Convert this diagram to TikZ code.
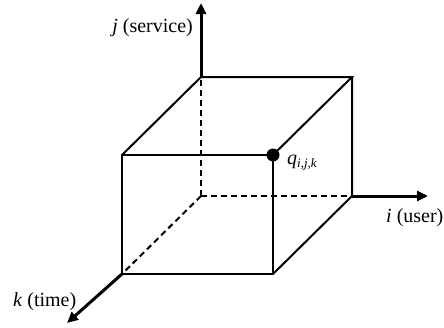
\documentclass[tikz,border=0pt]{standalone}
\usepackage{fontspec}
\setmainfont{Liberation Serif}
\usetikzlibrary{arrows.meta}
\begin{document}
\begin{tikzpicture}[x=1pt,y=-1pt,
  edge/.style={line width=2pt, line join=miter},
  hidden/.style={line width=2pt, dash pattern=on 6pt off 4pt},
  axis/.style={line width=3pt, -{Triangle[length=11pt,width=10pt]}},
  lbl/.style={inner sep=0pt, font=\fontsize{20}{24}\selectfont}]
\useasboundingbox (0,0) rectangle (444,327);
\coordinate (O) at (201,196);
\coordinate (BTL) at (201,77);
\coordinate (BTR) at (352,77);
\coordinate (BBR) at (352,196);
\coordinate (FTL) at (122,155);
\coordinate (FTR) at (273,155);
\coordinate (FBL) at (122,274);
\coordinate (FBR) at (273,274);
\coordinate (jtip) at (201,3);
\coordinate (itip) at (428,196);
\coordinate (ktip) at (67,323);
% hidden edges
\draw[hidden] (O) -- (BTL);
\draw[hidden] (O) -- (BBR);
\draw[hidden] (O) -- (FBL);
% visible edges
\draw[edge] (FTL) -- (FTR) -- (FBR) -- (FBL) -- cycle;
\draw[edge] (FTL) -- (BTL) -- (BTR) -- (FTR);
\draw[edge] (BTR) -- (BBR) -- (FBR);
% axes
\draw[axis] (BTL) -- (jtip);
\draw[axis] (BBR) -- (itip);
\draw[axis] (FBL) -- (ktip);
% point
\fill (FTR) circle (6.5pt);
% labels
\node[lbl, anchor=base east] (jl) at (193,32) {\textit{j} (service)};
\node[lbl, anchor=base west] (il) at (386,222) {\textit{i} (user)};
\node[lbl, anchor=base west] (kl) at (13,306) {\textit{k} (time)};
\node[lbl, anchor=base west] (ql) at (287,164) {\textit{q}\raisebox{-3pt}{\fontsize{13}{13}\selectfont\textit{i,j,k}}};
\end{tikzpicture}
\end{document}
